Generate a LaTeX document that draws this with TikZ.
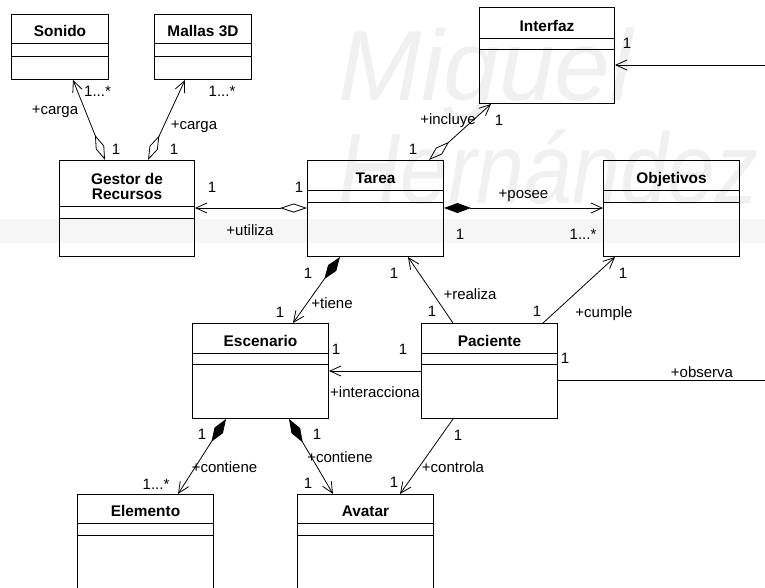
\documentclass[tikz,border=0pt]{standalone}
\usepackage{fontspec}
\setmainfont{Liberation Sans}
\usetikzlibrary{arrows.meta,calc}

\tikzset{
  boxline/.style={line width=1pt},
  classbox/.style={draw, boxline, inner sep=0pt, anchor=north west},
  classname/.style={font=\fontsize{15.4}{15}\selectfont\bfseries, anchor=base, inner sep=0pt, align=center},
  lbl/.style={font=\fontsize{15}{15}\selectfont, anchor=base, inner sep=0pt},
  wm/.style={font=\fontsize{100}{100}\selectfont\itshape, text=black!6, anchor=base west, inner sep=0pt},
  conn/.style={line width=0.8pt},
  navig/.style={conn, -{Straight Barb[length=11pt,width=10pt,line width=0.8pt]}},
  aggr/.style={conn, {Diamond[open,length=27pt,width=9pt,line width=0.8pt]}-{Straight Barb[length=11pt,width=10pt,line width=0.8pt]}},
  comp/.style={conn, {Diamond[length=27pt,width=10pt]}-{Straight Barb[length=11pt,width=10pt,line width=0.8pt]}},
}

% #1 name, #2 left, #3 top, #4 width, #5 height, #6 first divider, #7 second divider, #8 title
\newcommand\umlclass[8]{%
  \node[classbox, minimum width=#4pt, minimum height=#5pt] (#1) at (#2,#3) {};
  \draw[boxline] ($(#1.north west)+(0,#6)$) -- ($(#1.north east)+(0,#6)$);
  \draw[boxline] ($(#1.north west)+(0,#7)$) -- ($(#1.north east)+(0,#7)$);
  \node[classname] (#1-name) at ($(#1.north)+(0,#6-6.3)$) {#8};
}

\begin{document}
\begin{tikzpicture}[x=1pt, y=-1pt]
\useasboundingbox (0,0) rectangle (765,587);
\clip (0,0) rectangle (765,587);
\fill[white] (0,0) rectangle (765,587);

% faint watermark
\fill[black!4] (0,219) rectangle (765,243);
\node[wm] (wm1) at (338,100) {Miguel};
\node[wm, xscale=0.86] (wm2) at (338,203) {Hernández};

% classes
\umlclass{sonido}{11}{14}{97}{65}{29}{42}{Sonido}
\umlclass{mallas}{154}{14}{97}{65}{29}{42}{Mallas 3D}
\umlclass{interfaz}{479}{7}{135}{96}{31}{42}{Interfaz}
\node[classbox, minimum width=135pt, minimum height=96pt] (gestor) at (59,160) {};
\draw[boxline] ($(gestor.north west)+(0,46)$) -- ($(gestor.north east)+(0,46)$);
\draw[boxline] ($(gestor.north west)+(0,58)$) -- ($(gestor.north east)+(0,58)$);
\node[classname, anchor=center] (gestor-name) at ($(gestor.north)+(0,26.3)$) {Gestor de\\Recursos};
\umlclass{tarea}{307}{160}{136}{96}{30}{42}{Tarea}
\umlclass{objetivos}{603}{160}{136}{96}{30}{42}{Objetivos}
\umlclass{escenario}{192}{323}{136}{95}{30}{41}{Escenario}
\umlclass{paciente}{421}{323}{136}{95}{30}{41}{Paciente}
\umlclass{elemento}{77}{494}{136}{96}{29}{41}{Elemento}
\umlclass{avatar}{297}{494}{136}{96}{29}{41}{Avatar}

% connectors
\draw[aggr] ($(gestor.north west)+(46,0)$) -- ($(sonido.south west)+(62,0)$);
\draw[aggr] ($(gestor.north west)+(89,0)$) -- ($(mallas.south west)+(31,0)$);
\draw[aggr] ($(tarea.north west)+(122,0)$) -- ($(interfaz.south west)+(12,0)$);
\draw[aggr] ($(tarea.north west)+(0,48)$) -- ($(gestor.north east)+(0,48)$);
\draw[comp] ($(tarea.north east)+(0,48)$) -- ($(objetivos.north west)+(0,48)$);
\draw[comp] ($(tarea.south west)+(33,0)$) -- ($(escenario.north west)+(101,0)$);
\draw[navig] ($(paciente.north west)+(32,0)$) -- ($(tarea.south west)+(101,0)$);
\draw[navig] ($(paciente.north west)+(122,0)$) -- ($(objetivos.south west)+(12,0)$);
\draw[navig] ($(paciente.north west)+(0,48)$) -- ($(escenario.north east)+(0,48)$);
\draw[comp] ($(escenario.south west)+(34,0)$) -- ($(elemento.north west)+(101,0)$);
\draw[comp] ($(escenario.south west)+(97,0)$) -- ($(avatar.north west)+(36,0)$);
\draw[navig] ($(paciente.south west)+(32,0)$) -- ($(avatar.north west)+(103,0)$);
\coordinate (obscorner) at (780,0);
\coordinate (pobs) at ($(paciente.north east)+(0,57)$);
\coordinate (iobs) at ($(interfaz.north east)+(0,58)$);
\draw[navig] (pobs) -- (pobs -| obscorner) -- (iobs -| obscorner) -- (iobs);

% labels
\node[lbl] (m1) at (97.5,96.5) {1...*};
\node[lbl] (r1) at (55,114) {+carga};
\node[lbl] (m2) at (116,154) {1};
\node[lbl] (r2) at (194,129) {+carga};
\node[lbl] (m3) at (222,96.5) {1...*};
\node[lbl] (m4) at (174,154) {1};
\node[lbl] (r3) at (448,124) {+incluye};
\node[lbl] (m5) at (499,125) {1};
\node[lbl] (m6) at (413,154) {1};
\node[lbl] (m7) at (627,48) {1};
\node[lbl] (m8) at (212,192) {1};
\node[lbl] (m9) at (299,192) {1};
\node[lbl] (r4) at (250,235) {+utiliza};
\node[lbl] (r5) at (523.5,198) {+posee};
\node[lbl] (m10) at (460,239) {1};
\node[lbl] (m11) at (583,239) {1...*};
\node[lbl] (m12) at (308,278) {1};
\node[lbl] (m13) at (280,317) {1};
\node[lbl] (r6) at (332,308) {+tiene};
\node[lbl] (m14) at (394,278) {1};
\node[lbl] (r7) at (470,299) {+realiza};
\node[lbl] (m15) at (432,316) {1};
\node[lbl] (m16) at (537,316) {1};
\node[lbl] (r8) at (604,317) {+cumple};
\node[lbl] (m17) at (623,278) {1};
\node[lbl] (m18) at (336,354) {1};
\node[lbl] (m19) at (403,354) {1};
\node[lbl] (r9) at (375,397) {+interacciona};
\node[lbl] (m20) at (565,363) {1};
\node[lbl] (r10) at (702,377) {+observa};
\node[lbl] (m21) at (202,439) {1};
\node[lbl] (r11) at (224.5,472) {+contiene};
\node[lbl] (m22) at (156,489) {1...*};
\node[lbl] (m23) at (317,439) {1};
\node[lbl] (r12) at (340,462) {+contiene};
\node[lbl] (m24) at (308,488) {1};
\node[lbl] (m25) at (458,440) {1};
\node[lbl] (r13) at (453,472) {+controla};
\node[lbl] (m26) at (394,487) {1};
\end{tikzpicture}
\end{document}
